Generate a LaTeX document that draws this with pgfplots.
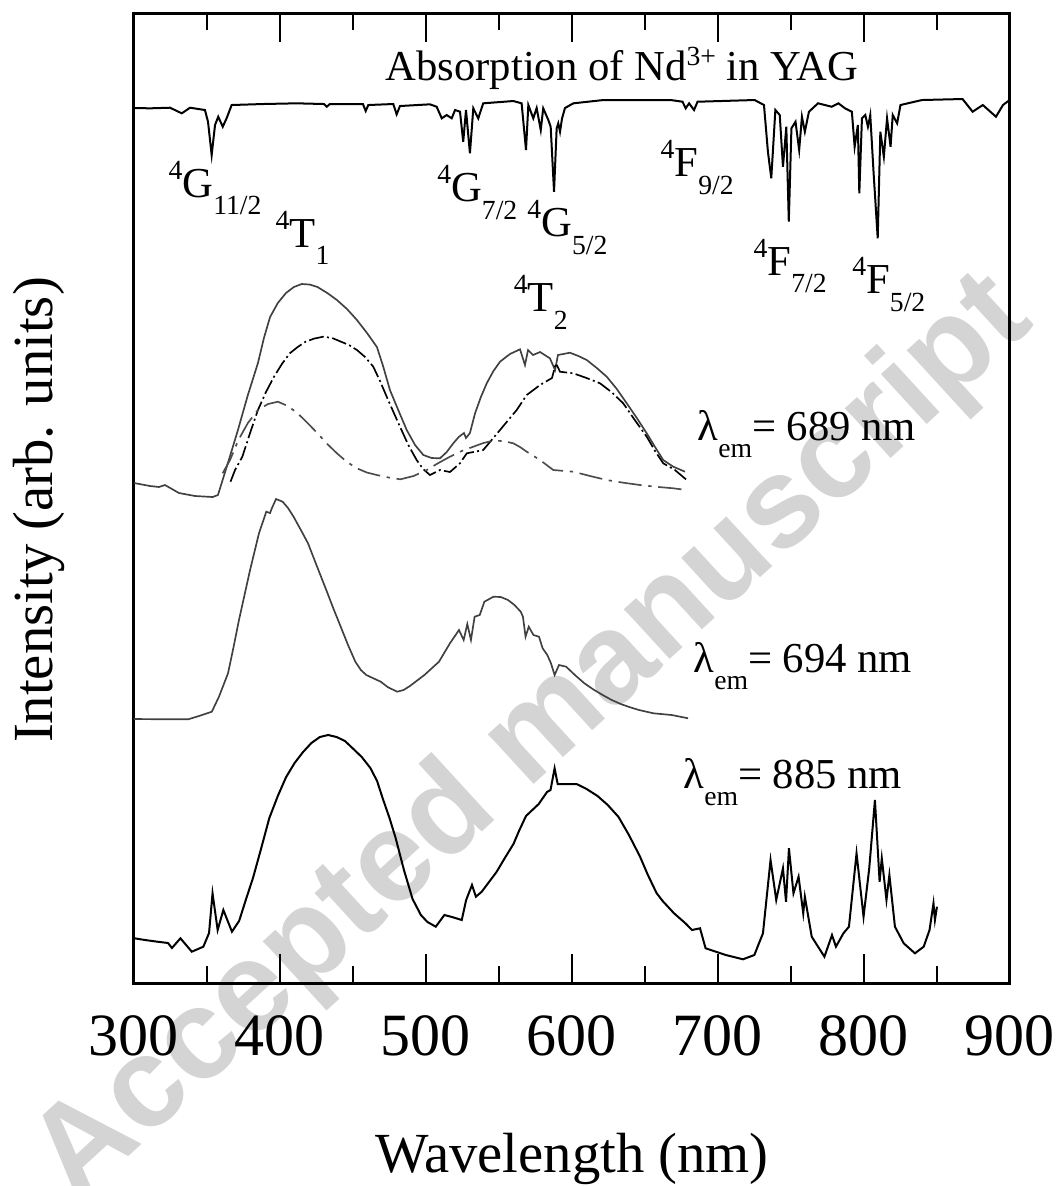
\documentclass[border=0pt]{standalone}
\usepackage{fontspec}
\setmainfont{Liberation Serif}
\newfontfamily\wmfont{Liberation Sans}
\usepackage{pgfplots}
\pgfplotsset{compat=1.18}
\newcommand{\sm}{\fontsize{8.3pt}{9pt}\selectfont}
\newcommand{\lv}[3]{\raisebox{0.42em}{\sm #1}#2\raisebox{-0.42em}{\sm #3}}
\newcommand{\lem}[1]{λ\raisebox{-0.4em}{\sm em}= #1 nm}
\begin{document}
\begin{tikzpicture}
\path[use as bounding box] (-40.2pt,-60.9pt) rectangle (277.5pt,294.9pt);
\node[rotate=42.5, text=black!17, font=\wmfont\bfseries\fontsize{38.4pt}{40pt}\selectfont] at (120pt,72.9pt) {Accepted manuscript};
\begin{axis}[
  scale only axis, width=262.8pt, height=291pt,
  xmin=300, xmax=900, ymin=0, ymax=970,
  xtick={300,400,...,900}, minor xtick={350,450,...,850},
  ytick=\empty,
  tick align=inside, xtick pos=both, xticklabel pos=lower,
  major tick length=8.7pt, minor tick length=5.1pt,
  tick style={line width=0.6pt, black},
  axis line style={line width=0.9pt},
  /pgf/number format/assume math mode=true,
  xticklabel style={font=\fontsize{18pt}{21pt}\selectfont, yshift=-6.3pt},
  xlabel={Wavelength (nm)}, ylabel={Intensity (arb. units)},
  label style={font=\fontsize{17pt}{20pt}\selectfont},
  xlabel style={at={(axis description cs:0.5,0)}, anchor=base, yshift=-56.7pt},
  ylabel style={at={(axis description cs:-0.0925,0.4876)}, anchor=base},
  clip=false,
]
% Absorption
\addplot[black, line width=0.6pt] coordinates {(300,875)(311,874.7)(324.7,875.3)(332.7,869.7)(338.4,875.3)(348.6,873)(350.7,861.3)(353.2,828)(355.5,858)(357.7,866.3)(360.8,856.3)(363.5,865)(366.9,878)(388.4,879)(411.4,879.7)(430.1,879)(432,876.3)(434.2,879)(456.8,879)(458.7,872)(460.5,878)(477.6,879)(479.9,868.7)(482.2,877)(502.7,878.7)(507.3,876.3)(510.8,864.7)(514.2,868)(517.6,864.7)(519.9,873)(523.3,871.3)(525.5,841.3)(527.4,873)(530.1,829.7)(532.4,874.7)(535.8,864.7)(539.2,879.7)(559.8,882)(565.5,879.7)(568.5,833)(570.1,878)(573.5,864.7)(575.8,875)(578.6,853)(580.3,874.7)(583.8,863)(585.4,856.3)(587.7,791.3)(589.5,854.7)(590.6,859.7)(591.8,851.3)(593.2,864.7)(595.2,875)(600.9,879.7)(621.6,883)(667.6,883)(675.7,881.3)(677.9,874.7)(680.2,879.7)(683.6,873)(686,881.3)(725.1,883)(731.5,878)(734.2,831.3)(736.5,804.7)(739.3,873)(742.3,868)(744.5,816.3)(746.8,856.3)(748.5,761.3)(750.3,854.7)(753.1,861.3)(755.6,833)(757.5,866.3)(759.5,851.3)(762.3,871.3)(768.5,879.7)(777.9,876.3)(782.5,879.7)(787,874.7)(791.7,871.3)(793.6,836.3)(795.8,858)(796.8,789.7)(798.6,864.7)(800.9,868)(802.7,856.3)(804.3,868)(806.6,809.7)(809.4,744.7)(811.2,851.3)(813.6,826.3)(815.8,864.7)(818.2,836.3)(819.7,868)(822.7,859.7)(825,878)(839.7,883)(867.5,884)(874.4,871.3)(881.4,878)(890.4,866.3)(895.2,878)(899.7,883)};
% 689 solid
\addplot[black!75, line width=0.5pt] coordinates {(300,500)(311,497)(317.1,496)(321.2,498)(330.8,490)(341.8,487)(353.9,486)(357.5,488)(360.7,503)(366,528)(371.2,553)(378,588)(384.9,620)(389,645)(393.2,666)(398.5,680)(404.1,690)(409.5,696)(414.9,699)(420.3,698.5)(425.7,696)(432.4,690)(439,683)(445.9,674)(452.7,663)(459.6,650)(466.4,636)(470.8,616)(475.3,593)(481,573)(486.8,553)(492.5,538)(498.2,528)(503.9,525)(509.6,524.7)(514.2,531)(518.7,539.7)(522.4,546)(526,550)(527.4,545)(530.1,550)(533.6,569.7)(537.6,586)(541.6,599.7)(546.2,612)(550.7,621.3)(557.5,629)(564.4,633.7)(567.8,618)(569.9,633)(573.3,628)(578.1,631)(584.9,624.7)(588.4,613)(590.4,628)(598.6,630.3)(604.4,627)(610.1,623)(617,615)(623.8,606.3)(630.7,594)(637.5,579.7)(644.4,565)(651.2,549.7)(656.9,536)(662.5,523)(669.4,516.3)(677.4,511.3)};
% 689 dash-dot
\addplot[black, line width=0.5pt, dash pattern=on 4.5pt off 1pt on 0.6pt off 1pt] coordinates {(366.1,501.3)(369.2,513)(374.2,526.3)(379.5,550)(384.9,573)(390.4,591)(395.9,606.3)(401.3,619)(406.7,629.7)(412.1,636)(417.5,641.3)(423.6,644.5)(429.7,646.3)(435.8,645)(441.8,641.3)(447.3,638)(452.7,633)(458.3,626)(463.9,616.3)(468.5,602)(473.1,586.3)(477.7,571)(482.2,556.3)(487.9,538)(493.6,523)(498,514)(502.7,508)(509.6,513)(516.4,511)(523.3,519.7)(527.9,529.7)(539.2,533)(550.7,553)(562.1,573)(569,588)(578.1,598)(586.3,605)(589,619.7)(591.8,611.3)(600.9,609.7)(610,605)(619.2,599.7)(627,591)(635.1,579.7)(643,563)(651.2,546.3)(656.9,532)(662.5,519.7)(670.5,513)(678.6,503)};
% 689 long dash
\addplot[black!70, line width=0.5pt, dash pattern=on 7pt off 2pt on 1pt off 2pt] coordinates {(360.7,509.7)(365.8,523)(371.5,543)(378,560)(384.9,573)(391.8,579)(398.6,581.3)(405.4,577)(412.1,569.7)(418.9,560)(425.7,549.7)(432.4,539)(439,529.7)(445.9,521)(452.7,514.7)(459.5,510.5)(466.3,508)(474.4,505.5)(482.5,503.7)(491.5,507)(500.5,513)(508.5,520)(516.4,526.3)(524.4,532)(532.4,536.3)(539.3,540)(546.1,542.3)(553,542)(559.8,539.7)(564.4,536)(569,531.3)(578.1,523)(587.2,513)(600.9,511.3)(612.4,507)(623.8,503)(635.2,500.3)(646.6,498)(658,496.2)(669.4,494.7)(678.6,493)};
% 694
\addplot[black!75, line width=0.5pt] coordinates {(300,264)(322.2,263.7)(337.1,263.7)(344.5,267)(353.3,271.3)(358.2,286.3)(364.4,309.7)(368.2,336)(371.9,363)(375.7,388)(379.5,413)(385.6,449.7)(390.6,471.3)(393.2,470)(394.5,475)(397.3,484)(401.8,481.3)(405.5,475)(409.3,466.3)(414.3,453)(419.2,439.7)(425.5,416)(431.7,393)(436.7,374)(441.6,356.3)(446.6,338)(451.6,321.3)(455.4,313)(459.1,308)(469,301.3)(474,295.7)(480.3,291.3)(484.6,293)(489,297)(498.9,308)(508.9,321.3)(516.4,339.7)(522.6,353)(525.8,343)(528.3,359)(530.8,343)(533.3,366.3)(536.8,368)(540,381.3)(546.2,386.3)(551.2,386)(556.2,383)(560.6,378)(564.9,371.3)(566.4,366.3)(568.2,346.3)(570.4,356.3)(573.6,348)(577.4,346.3)(579.9,334.7)(583.1,328)(585.6,319.7)(588.1,308)(591.1,318)(596,316.3)(602,308)(608.5,299.7)(614.7,293.5)(621,288)(627.2,283)(633.4,279)(639.6,275.8)(645.9,273)(655.8,269.7)(668.2,268)(679.5,264.7)};
% 885
\addplot[black, line width=0.6pt] coordinates {(300.3,44.7)(307.5,43)(316,41.3)(323.3,40)(326,35)(331.8,44.7)(339.6,31.3)(347.5,36.3)(351.4,50)(353.8,89.7)(357.3,53)(361.2,73)(367.1,51.3)(372,62)(377,85)(381.5,105)(386.8,133)(392.7,165)(398.5,187)(404.2,206)(410,220)(415.8,231)(421.5,240)(427.3,246)(433,248)(438.8,246)(444.5,242)(450.3,234)(456,226)(461.9,215)(466.5,202)(470.5,184)(475,165)(479.2,145)(484.9,113)(490.8,84)(496.5,68)(501,61)(506.7,56.3)(512.6,68)(517.8,66)(524.5,63)(527.5,83)(531.5,98)(534.2,86.3)(538.2,91.3)(548.3,111)(554,125)(559.9,139)(564,153)(568.5,167)(577.2,179)(582.9,191)(585.3,193)(588.1,214.7)(590.2,199)(597,199)(603.1,199)(610,194)(617.5,187)(624.5,178)(631.9,166)(639,148)(646.4,127)(652,108)(657.9,90)(662.1,82)(669.9,69.7)(677.7,59.7)(682.2,53)(687.7,54.7)(691.5,34.7)(705.3,28)(717.1,23.7)(724.9,28)(730.8,49.7)(736,123)(739.9,83)(744.5,114.7)(746.6,81.3)(748.6,134.7)(751.7,89.7)(755.2,106.3)(758.4,69.7)(759.5,86.3)(764.2,46.3)(772.9,26.3)(778.1,48)(780.8,36.3)(785.9,49.7)(789.7,56.3)(794.9,129.7)(799.7,66.3)(803.6,114.7)(807.5,183)(810.7,101.3)(812.2,124.7)(815.4,83)(817.4,108)(821.2,56.3)(827.2,39.7)(834.9,29.7)(840.9,36.3)(844.9,53)(847.6,79.7)(848.6,63)(850,76.3)};
% labels
\begin{scope}[every node/.style={font=\fontsize{12.8pt}{14pt}\selectfont, inner sep=0pt, anchor=base west}]
\node at (axis cs:471.9,903) {Absorption of Nd\raisebox{0.35em}{\sm 3+} in YAG};
\node at (axis cs:323.3,786) {\lv{4}{G}{11/2}};
\node at (axis cs:396.6,736) {\lv{4}{T}{1}};
\node at (axis cs:507.3,781.3) {\lv{4}{G}{7/2}};
\node at (axis cs:569,746.3) {\lv{4}{G}{5/2}};
\node at (axis cs:660.3,806.3) {\lv{4}{F}{9/2}};
\node at (axis cs:724,708) {\lv{4}{F}{7/2}};
\node at (axis cs:791.6,689.7) {\lv{4}{F}{5/2}};
\node at (axis cs:559.8,671.3) {\lv{4}{T}{2}};
\node at (axis cs:685.6,543) {\lem{689}};
\node at (axis cs:682.9,311) {\lem{694}};
\node at (axis cs:676,195) {\lem{885}};
\end{scope}
\end{axis}
\end{tikzpicture}
\end{document}
